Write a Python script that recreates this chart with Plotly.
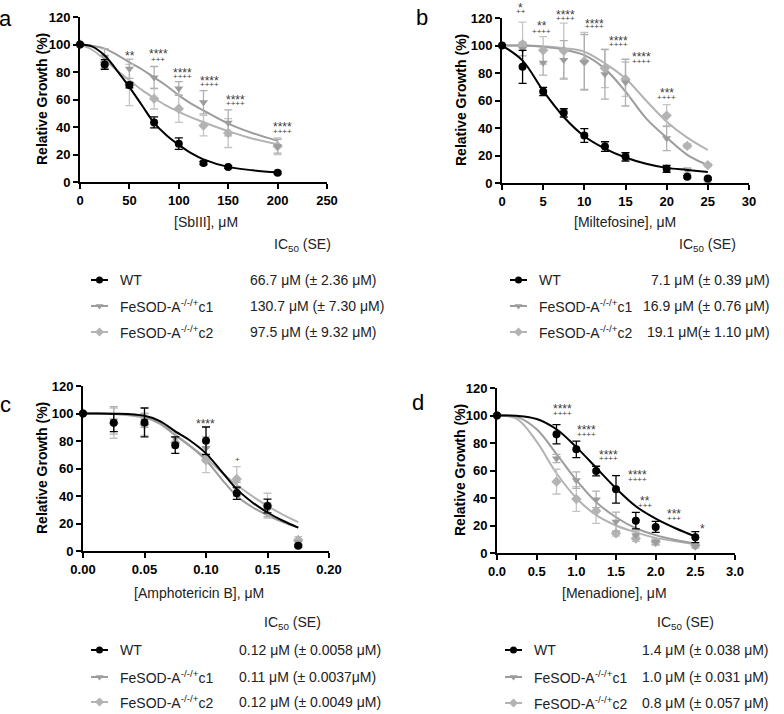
import plotly.graph_objects as go

W, H = 784, 714
FONT = "Liberation Sans, Arial, sans-serif"
C_WT, C_C1, C_C2 = "#000000", "#9c9c9c", "#b3b3b3"
E_C1, E_C2 = "#b0b0b0", "#c4c4c4"
Y_MAX = 120

# ---------------- data: panel a (SbIII) ----------------
a_x = [0, 25, 50, 75, 100, 125, 150, 200]
a_wt = [100, 85.5, 70.5, 43.3, 27.9, 13.8, 10.9, 6.7]
a_wt_err = [0, 3.5, 2, 4, 4.2, 1.2, 1, 0.8]
a_c1 = [100, 91, 82.4, 76, 68, 58, 43, 26]
a_c1_err = [0, 6, 7, 8, 5, 8.5, 9.5, 5]
a_c2 = [100, 87, 70.5, 60.6, 53.3, 41, 35.6, 26]
a_c2_err = [0, 4, 15, 7.5, 10, 7.5, 10.5, 6]
a_fit_x = [0, 12.5, 25, 37.5, 50, 62.5, 75, 87.5, 100, 112.5, 125, 150, 175, 200]
a_fit_wt = [100, 98.5, 92, 81, 69, 56, 43, 34, 27, 21, 16.5, 11, 8.5, 7]
a_fit_c1 = [100, 99, 97, 92.5, 87, 82, 76, 70, 63, 57, 52, 42.5, 35.5, 30]
a_fit_c2 = [100, 96, 89, 81, 74, 67, 61, 55.5, 51, 47, 43.5, 37, 31.5, 27.5]
a_sig_x = [51, 79, 104, 130.6, 157, 205]
a_sig_star = ["**", "****", "****", "****", "****", "****"]
a_sig_star_y = [94, 95, 81.7, 75.6, 61.8, 42.4]
a_sig_plus = ["", "+++", "++++", "++++", "++++", "++++"]
a_sig_plus_y = [0, 89, 76.4, 70.8, 57, 37]
a_xticks = [0, 50, 100, 150, 200, 250]

# ---------------- data: panel b (Miltefosine) ----------------
b_x_wt = [0, 2.5, 5, 7.5, 10, 12.5, 15, 20, 22.5, 25]
b_wt = [100, 84.5, 66.5, 51, 34.5, 26.5, 19, 10.3, 4.5, 3.3]
b_wt_err = [0, 12, 3, 3, 5, 3.5, 3, 2.5, 0.8, 0.8]
b_x_c = [2.5, 5, 7.5, 10, 12.5, 15, 20, 22.5, 25]
b_c1 = [97.5, 87.5, 89.5, 88, 79, 73, 32.5, 9, 1]
b_c1_err = [5, 9, 14, 20, 18, 17, 9, 2, 1]
b_c2 = [101, 96.5, 96.2, 88.5, 83.4, 75.5, 49, 27, 13]
b_c2_err = [16, 10, 20, 21, 14, 12.5, 8, 1.5, 1]
b_fit_x = [0, 2.5, 5, 7.5, 10, 12.5, 15, 17.5, 20, 22.5, 25]
b_fit_wt = [100, 89, 67, 48, 34, 25, 18.5, 14, 11, 9.5, 8]
b_fit_c1 = [100, 100, 99, 97, 93, 83, 66.5, 47, 33, 20.5, 13]
b_fit_c2 = [100, 100, 99.5, 98, 95.5, 87, 76, 60, 44.6, 33, 24]
b_sig_x = [2.3, 4.8, 7.7, 11.2, 14.2, 17.0, 20.0]
b_sig_star = ["*", "**", "****", "****", "****", "****", "***"]
b_sig_star_y = [129.5, 116.6, 124, 118, 105.7, 93.6, 67.6]
b_sig_plus = ["++", "++++", "++++", "++++", "++++", "++++", "++++"]
b_sig_plus_y = [124.6, 110, 119.7, 113.7, 100.8, 88.2, 62]
b_xticks = [0, 5, 10, 15, 20, 25, 30]

# ---------------- data: panel c (Amphotericin B) ----------------
c_x = [0, 0.025, 0.05, 0.075, 0.1, 0.125, 0.15, 0.175]
c_wt = [100, 93.3, 93.5, 77, 80.2, 42, 32.7, 3.9]
c_wt_err = [0, 6.5, 10.5, 6, 10, 4.5, 5, 0.8]
c_c1 = [100, 95, 95, 82, 75, 45, 30, 6]
c_c1_err = [0, 10, 5, 4, 8, 5, 5, 2]
c_c2 = [100, 93, 92, 79, 66, 52.4, 33, 8]
c_c2_err = [0, 11, 8, 4, 9, 9, 9, 2.5]
c_fit_x = [0, 0.025, 0.05, 0.0625, 0.075, 0.0875, 0.1, 0.1125, 0.125, 0.1375, 0.15, 0.1625, 0.175]
c_fit_wt = [100, 99.9, 98.3, 94.5, 87, 80, 71, 58, 45, 35.5, 28, 22, 17]
c_fit_c1 = [100, 99.8, 97.5, 93, 84.5, 76, 66, 52.5, 40, 32, 26, 21, 17]
c_fit_c2 = [100, 99.7, 97, 92.5, 84, 76, 67.5, 57.5, 48, 40, 32.7, 26.5, 21]
c_sig_star_x = [0.0997]
c_sig_star = ["****"]
c_sig_star_y = [94.8]
c_sig_plus_x = [0.1258]
c_sig_plus = ["+"]
c_sig_plus_y = [66.2]
c_xticks = [0, 0.05, 0.10, 0.15, 0.20]

# ---------------- data: panel d (Menadione) ----------------
d_x = [0, 0.75, 1.0, 1.25, 1.5, 1.75, 2.0, 2.5]
d_wt = [100, 86.3, 75.4, 59.6, 46.3, 23.5, 19, 11.5]
d_wt_err = [0, 7, 6, 3.5, 10, 6, 4, 4]
d_c1 = [100, 68.8, 53, 39, 22.8, 13, 8, 5]
d_c1_err = [0, 3, 6, 6, 7, 3, 2, 1.5]
d_c2 = [100, 51.9, 39.3, 30.5, 14.3, 10.5, 8, 5.5]
d_c2_err = [0, 9, 9, 9, 2, 2, 2, 1]
d_fit_x = [0, 0.25, 0.5, 0.75, 1.0, 1.25, 1.5, 1.75, 2.0, 2.25, 2.5]
d_fit_wt = [100, 99.8, 97.5, 90, 77, 62, 47, 34, 25, 18, 12]
d_fit_c1 = [100, 99, 90, 72, 53, 37, 26, 18, 13, 9.5, 7]
d_fit_c2 = [100, 97.5, 81, 58, 40, 27.5, 20, 15, 11, 8.5, 6.5]
d_sig_x = [0.83, 1.13, 1.41, 1.77, 1.86, 2.23, 2.59]
d_sig_star = ["****", "****", "****", "****", "**", "***", "*"]
d_sig_star_y = [106.9, 91.4, 73.7, 58.7, 40.2, 30.5, 19.9]
d_sig_plus = ["++++", "++++", "++++", "++++", "+++", "+++", ""]
d_sig_plus_y = [101.6, 86.5, 68.4, 53.8, 34.4, 25.2, 0]
d_xticks = [0, 0.5, 1.0, 1.5, 2.0, 2.5, 3.0]

y_ticks = [0, 20, 40, 60, 80, 100, 120]

# legend / table text
strain_labels = ["WT", "FeSOD-A<sup>-/-/+</sup>c1", "FeSOD-A<sup>-/-/+</sup>c2"]
a_ic50 = ["66.7 μM (± 2.36 μM)", "130.7 μM (± 7.30 μM)", "97.5 μM (± 9.32 μM)"]
b_ic50 = ["7.1 μM (± 0.39 μM)", "16.9 μM (± 0.76 μM)", "19.1 μM(± 1.10 μM)"]
c_ic50 = ["0.12 μM (± 0.0058 μM)", "0.11 μM (± 0.0037μM)", "0.12 μM (± 0.0049 μM)"]
d_ic50 = ["1.4 μM (± 0.038 μM)", "1.0 μM (± 0.031 μM)", "0.8 μM (± 0.057 μM)"]
x_titles = ["[SbIII], μM", "[Miltefosine], μM", "[Amphotericin B], μM", "[Menadione], μM"]

fig = go.Figure()
annotations = []


def sfx(n):
    return "" if n == 1 else str(n)


def px(x):
    return x / W


def py(y):
    return 1 - y / H


def note(x, y, text, size, color="#222222", xanchor="center", **kw):
    annotations.append(dict(x=x, y=y, xref="paper", yref="paper", text=text, showarrow=False,
                            xanchor=xanchor, yanchor="middle", font=dict(family=FONT, size=size, color=color), **kw))


def add_series(n, x, y, err, color, ecolor, symbol, size):
    fig.add_trace(go.Scatter(
        x=x, y=y, mode="markers", xaxis="x" + sfx(n), yaxis="y" + sfx(n), cliponaxis=False,
        marker=dict(color=color, symbol=symbol, size=size, line=dict(width=0)),
        error_y=dict(type="data", array=err, visible=True, color=ecolor, thickness=1.3, width=4),
        showlegend=False, hoverinfo="skip"))


def add_fit(n, x, y, color, width):
    fig.add_trace(go.Scatter(
        x=x, y=y, mode="lines", xaxis="x" + sfx(n), yaxis="y" + sfx(n), cliponaxis=False,
        line=dict(color=color, width=width, shape="spline", smoothing=1.0),
        showlegend=False, hoverinfo="skip"))


def add_sig(n, xs, texts, ys, size, yshift=0):
    # y given in data units; placed via the y-axis domain so marks above 120 stay visible
    for xv, t, yv in zip(xs, texts, ys):
        if t:
            annotations.append(dict(x=xv, y=yv / Y_MAX, xref="x" + sfx(n), yref="y" + sfx(n) + " domain",
                                    text=t, showarrow=False, xanchor="center", yanchor="middle", yshift=yshift,
                                    font=dict(family=FONT, size=size, color="#3a3a3a")))


def add_panel(n, xw, wt, wte, xc, c1, c1e, c2, c2e, fx, fwt, fc1, fc2):
    add_fit(n, fx, fc2, C_C2, 2)
    add_fit(n, fx, fc1, C_C1, 2)
    add_series(n, xc, c2, c2e, C_C2, E_C2, "diamond", 8)
    add_series(n, xc, c1, c1e, C_C1, E_C1, "triangle-down", 8)
    add_fit(n, fx, fwt, C_WT, 2)
    add_series(n, xw, wt, wte, C_WT, C_WT, "circle", 8)


add_panel(1, a_x, a_wt, a_wt_err, a_x, a_c1, a_c1_err, a_c2, a_c2_err, a_fit_x, a_fit_wt, a_fit_c1, a_fit_c2)
add_sig(1, a_sig_x, a_sig_star, a_sig_star_y, 12, -3)
add_sig(1, a_sig_x, a_sig_plus, a_sig_plus_y, 8)

add_panel(2, b_x_wt, b_wt, b_wt_err, b_x_c, b_c1, b_c1_err, b_c2, b_c2_err, b_fit_x, b_fit_wt, b_fit_c1, b_fit_c2)
add_sig(2, b_sig_x, b_sig_star, b_sig_star_y, 12, -3)
add_sig(2, b_sig_x, b_sig_plus, b_sig_plus_y, 8)

add_panel(3, c_x, c_wt, c_wt_err, c_x, c_c1, c_c1_err, c_c2, c_c2_err, c_fit_x, c_fit_wt, c_fit_c1, c_fit_c2)
add_sig(3, c_sig_star_x, c_sig_star, c_sig_star_y, 12, -3)
add_sig(3, c_sig_plus_x, c_sig_plus, c_sig_plus_y, 8)

add_panel(4, d_x, d_wt, d_wt_err, d_x, d_c1, d_c1_err, d_c2, d_c2_err, d_fit_x, d_fit_wt, d_fit_c1, d_fit_c2)
add_sig(4, d_sig_x, d_sig_star, d_sig_star_y, 12, -3)
add_sig(4, d_sig_x, d_sig_plus, d_sig_plus_y, 8)

# axes geometry (pixels)
panels = {
    1: dict(x0=80, x1=327, y0=17, y1=182, xr=[0, 250], xt=a_xticks, fmt=""),
    2: dict(x0=502, x1=749, y0=18, y1=183, xr=[0, 30], xt=b_xticks, fmt=""),
    3: dict(x0=83, x1=329, y0=386, y1=551, xr=[0, 0.2], xt=c_xticks, fmt=".2f"),
    4: dict(x0=497, x1=735, y0=388, y1=553, xr=[0, 3], xt=d_xticks, fmt=".1f"),
}
tickfont = dict(family=FONT, size=13, color="black", weight="bold")
common = dict(showline=True, linecolor="black", linewidth=1.8, ticks="outside", ticklen=5,
              tickwidth=1.8, tickcolor="black", showgrid=False, zeroline=False, tickfont=tickfont,
              fixedrange=True, automargin=False)
layout_axes = {}
for n, p in panels.items():
    layout_axes["xaxis" + sfx(n)] = dict(domain=[px(p["x0"]), px(p["x1"])], range=p["xr"], anchor="y" + sfx(n),
                                         tickmode="array", tickvals=p["xt"], tickformat=p["fmt"], **common)
    layout_axes["yaxis" + sfx(n)] = dict(domain=[py(p["y1"]), py(p["y0"])], range=[0, Y_MAX],
                                         anchor="x" + sfx(n), tickmode="array", tickvals=y_ticks, **common)
# overlay axis in pixel units for legend symbols
layout_axes["xaxis5"] = dict(domain=[0, 1], range=[0, W], anchor="y5", visible=False, fixedrange=True,
                             automargin=False)
layout_axes["yaxis5"] = dict(domain=[0, 1], range=[H, 0], anchor="x5", visible=False, fixedrange=True,
                             automargin=False)

# y titles
for xc, yc in [(42, 99), (461, 100), (42, 468), (460, 470)]:
    note(px(xc), py(yc), "<b>Relative Growth (%)</b>", 14, color="black", textangle=-90)
# x titles
for (xc, yc), t in zip([(206, 222), (625, 222), (199, 593), (614, 593)], x_titles):
    note(px(xc), py(yc), t, 14)
# panel letters
for (xc, yc), t in zip([(5, 18), (422, 17), (5, 404), (418, 402)], ["a", "b", "c", "d"]):
    note(px(xc), py(yc), t, 22, color="black")

# IC50 tables
tables = [
    dict(tc=(302, 245), rows=[280, 306, 332], sym=(91, 108), lx=118, vx=248, va="left", vals=a_ic50),
    dict(tc=(707, 245), rows=[280, 306, 332], sym=(510, 527), lx=537, vx=772, va="right", vals=b_ic50),
    dict(tc=(292, 623), rows=[650, 677, 702], sym=(91, 108), lx=118, vx=237, va="left", vals=c_ic50),
    dict(tc=(685, 623), rows=[650, 677, 703], sym=(505, 522), lx=532, vx=771, va="right", vals=d_ic50),
]
sym_style = [(C_WT, "circle", 7), (C_C1, "triangle-down", 7), (C_C2, "diamond", 7)]
for tb in tables:
    note(px(tb["tc"][0]), py(tb["tc"][1]), "IC<sub>50</sub> (SE)", 14)
    for i, ry in enumerate(tb["rows"]):
        col, sym, sz = sym_style[i]
        s0, s1 = tb["sym"]
        fig.add_trace(go.Scatter(x=[s0, s1], y=[ry, ry], mode="lines", xaxis="x5", yaxis="y5",
                                 line=dict(color=col, width=2), showlegend=False, hoverinfo="skip"))
        fig.add_trace(go.Scatter(x=[(s0 + s1) / 2], y=[ry], mode="markers", xaxis="x5", yaxis="y5",
                                 marker=dict(color=col, symbol=sym, size=sz), showlegend=False, hoverinfo="skip"))
        note(px(tb["lx"]), py(ry), strain_labels[i], 14, xanchor="left")
        note(px(tb["vx"]), py(ry), tb["vals"][i], 14, xanchor=tb["va"])

fig.update_layout(width=W, height=H, margin=dict(l=0, r=0, t=0, b=0, pad=0, autoexpand=False),
                  paper_bgcolor="white", plot_bgcolor="rgba(0,0,0,0)", showlegend=False,
                  annotations=annotations, font=dict(family=FONT), **layout_axes)
fig.write_html("out.html", config={"displayModeBar": False},
               post_script="document.body.style.margin='0px';")
